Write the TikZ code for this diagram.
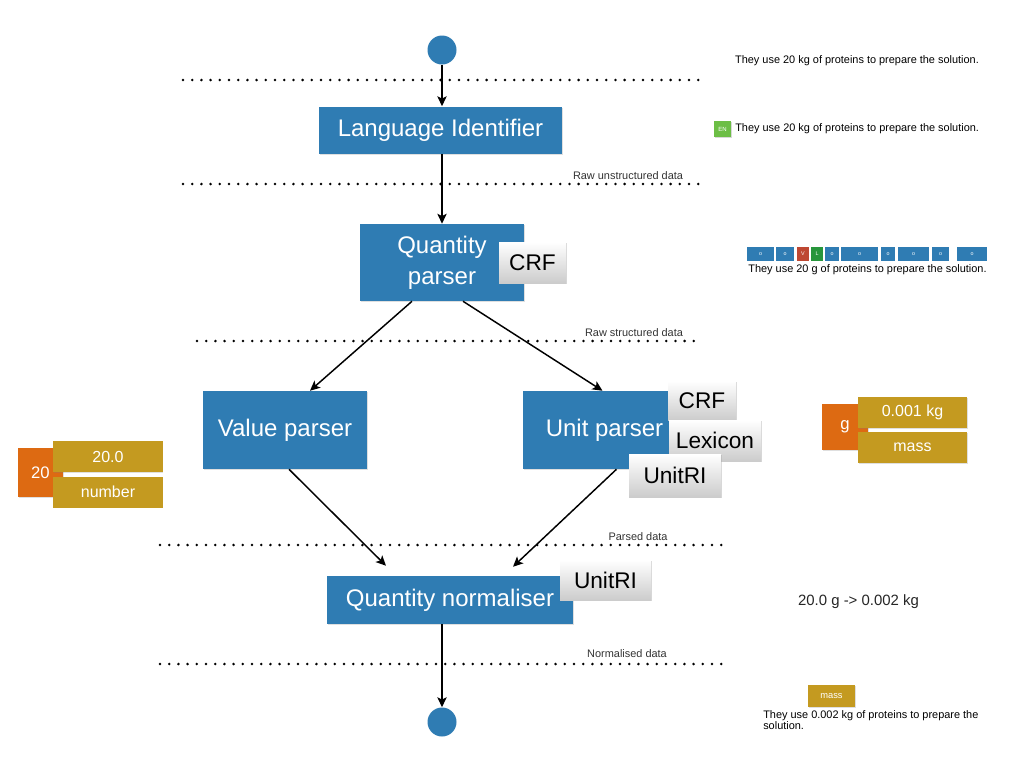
\documentclass[tikz,border=0pt]{standalone}
\usepackage{fontspec}
\setmainfont{Liberation Sans}
\usetikzlibrary{arrows.meta, shadows, calc}
\definecolor{stageblue}{RGB}{47,124,179}
\definecolor{valorange}{RGB}{221,106,18}
\definecolor{infogold}{RGB}{196,154,32}
\definecolor{langgreen}{RGB}{108,190,69}
\definecolor{tokred}{RGB}{190,72,50}
\definecolor{tokgreen}{RGB}{40,150,60}
\tikzset{
  stage/.style={fill=stageblue, text=white, align=center, inner sep=0pt,
    font=\fontsize{18}{21}\selectfont,
    drop shadow={opacity=0.25, shadow xshift=0.6pt, shadow yshift=-0.8pt}},
  model/.style={top color=white, bottom color=black!20, text=black, inner sep=0pt,
    font=\fontsize{17}{20}\selectfont,
    drop shadow={opacity=0.3, shadow xshift=0.8pt, shadow yshift=-0.8pt}},
  endpoint/.style={circle, fill=stageblue, minimum size=21.75pt, inner sep=0pt},
  valuebox/.style={fill=valorange, text=white, inner sep=0pt,
    font=\fontsize{12.5}{14}\selectfont,
    drop shadow={opacity=0.25, shadow xshift=0.6pt, shadow yshift=-0.6pt}},
  infobox/.style={fill=infogold, text=white, inner sep=0pt, minimum width=82pt, minimum height=23.25pt,
    font=\fontsize{12}{14}\selectfont,
    drop shadow={opacity=0.25, shadow xshift=0.6pt, shadow yshift=-0.6pt}},
  token/.style={fill=stageblue, text=white, inner sep=0pt, minimum height=10.5pt,
    font=\fontsize{4}{5}\selectfont},
  sentence/.style={font=\fontsize{8.2}{9.5}\selectfont, inner sep=0pt},
  levelname/.style={font=\fontsize{8.2}{9.5}\selectfont, text=black!80, inner sep=0pt},
  level/.style={line width=2.1pt, dash pattern=on 0pt off 6.9pt, line cap=round},
  flow/.style={line width=1.1pt, -{Stealth[length=7.5pt, width=7pt, inset=1.8pt]}}
}
\begin{document}
\begin{tikzpicture}[x=0.75pt, y=-0.75pt]
  \useasboundingbox[fill=white] (0,0) rectangle (1024,768);

  % Levels
  \draw [level] (183,80) -- (700,80);
  \draw [level] (183,184) -- (700,184);
  \draw [level] (197,341) -- (700,341);
  \draw [level] (160,545) -- (730,545);
  \draw [level] (160,664) -- (730,664);
  \node [levelname] at (628,176) {Raw unstructured data};
  \node [levelname] at (634,333) {Raw structured data};
  \node [levelname] at (638,537) {Parsed data};
  \node [levelname] at (627,654) {Normalised data};

  % Pipeline
  \node [endpoint] (start) at (442,50) {};
  \node [stage, minimum width=182.25pt, minimum height=35.25pt] (langid) at (440.5,130) {Language Identifier};
  \node [stage, minimum width=123pt, minimum height=57.75pt] (qparser) at (442,262.5) {Quantity\\[2pt]parser};
  \node [model, minimum width=50.25pt, minimum height=30.75pt] (qcrf) at (532.5,262.5) {CRF};
  \node [stage, minimum width=123pt, minimum height=58.5pt] (vparser) at (285,430) {Value parser};
  \node [stage, minimum width=122.25pt, minimum height=58.5pt] (uparser) at (604.5,430) {Unit parser};
  \node [model, minimum width=51pt, minimum height=29.25pt] (ucrf) at (702,400.5) {CRF};
  \node [model, minimum width=69pt, minimum height=30.75pt] (ulex) at (715,440.5) {Lexicon};
  \node [model, minimum width=69pt, minimum height=32.25pt] (uunitri) at (675,475.5) {UnitRI};
  \node [stage, minimum width=184.5pt, minimum height=36pt] (qnorm) at (450,600) {Quantity normaliser};
  \node [model, minimum width=68.25pt, minimum height=30pt] (nunitri) at (605.5,580) {UnitRI};
  \node [endpoint] (end) at (442,722) {};

  % Arrows
  \draw [flow] (start) -- (start |- langid.north);
  \draw [flow] (qparser.north |- langid.south) -- (qparser.north);
  \draw [flow] ($(qparser.south)+(-30,0)$) -- ($(vparser.north)+(25,0)$);
  \draw [flow] ($(qparser.south)+(21,0)$) -- ($(uparser.north)+(-2,0)$);
  \draw [flow] ($(vparser.south)+(4,0)$) -- ($(qnorm.north)+(-64,-10)$);
  \draw [flow] ($(uparser.south)+(12,0)$) -- ($(qnorm.north)+(63,-9)$);
  \draw [flow] (end |- qnorm.south) -- (end.north);

  % Examples
  \node [sentence] (raw) at (857,61) {They use 20 kg of proteins to prepare the solution.};
  \node [fill=langgreen, text=white, inner sep=0pt, minimum width=12.75pt, minimum height=12pt,
    font=\fontsize{4.5}{5}\selectfont, drop shadow={opacity=0.3, shadow xshift=0.6pt, shadow yshift=-0.6pt}] (lang) at (722.5,129) {EN};
  \node [sentence, anchor=west] (tagged) at (735,129) {They use 20 kg of proteins to prepare the solution.};
  \foreach \xa/\xb/\lab/\col in {747/774/o/stageblue, 776/794/o/stageblue, 797/809/V/tokred, 811/823/L/tokgreen,
      825/839/o/stageblue, 841/878/o/stageblue, 881/895/o/stageblue, 898/929/o/stageblue,
      932/949/o/stageblue, 957/987/o/stageblue}
    \node [token, fill=\col, minimum width={(\xb-\xa)*0.75pt}] at ({(\xa+\xb)/2},254) {\lab};
  \node [sentence] (tokens) at (867.5,270) {They use 20 g of proteins to prepare the solution.};

  \node [valuebox, minimum width=33.75pt, minimum height=36.75pt] (num) at (40.5,472.5) {20};
  \node [infobox] (numval) at (108,456.5) {20.0};
  \node [infobox] (numtype) at (108,492) {number};

  \node [valuebox, minimum width=34.5pt, minimum height=34.5pt] (unit) at (845,427) {g};
  \node [infobox] (unitval) at (912.5,412.5) {0.001 kg};
  \node [infobox] (unittype) at (912.5,447.5) {mass};

  \node [font=\fontsize{11.2}{13}\selectfont, text=black!85, inner sep=0pt] (conv) at (858.5,602) {20.0 g -> 0.002 kg};
  \node [infobox, minimum width=35.25pt, minimum height=16.5pt, font=\fontsize{7}{8}\selectfont] (qtype) at (831.5,696) {mass};
  \node [sentence, anchor=north west, align=left, font=\fontsize{8.2}{8.8}\selectfont] (result) at (763,710)
    {They use 0.002 kg of proteins to prepare the\\solution.};
\end{tikzpicture}
\end{document}
